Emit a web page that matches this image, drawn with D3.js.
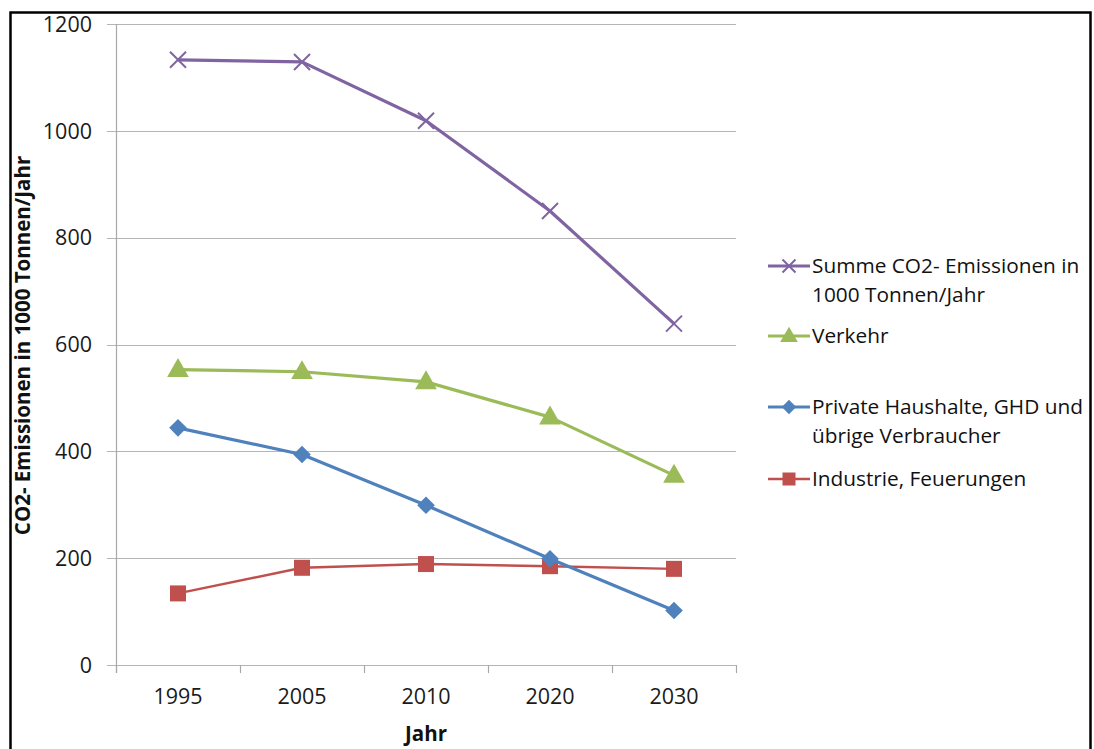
<!DOCTYPE html>
<html>
<head>
<meta charset="utf-8">
<script src="https://cdn.jsdelivr.net/npm/d3@7"></script>
<style>
  html, body { margin: 0; padding: 0; background: #fff; }
  svg { display: block; font-family: "Open Sans", "Noto Sans", sans-serif; }
</style>
</head>
<body>
<svg id="chart" width="1094" height="749"></svg>
<script>
// Years on the category axis
const years = ["1995", "2005", "2010", "2020", "2030"];

// CO2 emissions in 1000 t/year per sector
const summe      = [1133, 1129, 1019, 850, 639];
const verkehr    = [553, 549, 530, 464, 355];
const haushalte  = [444, 394, 299, 199, 102];
const industrie  = [134, 182, 189, 185, 180];

const yTicks = [0, 200, 400, 600, 800, 1000, 1200];

const seriesNames = [
  ["Summe CO2- Emissionen in", "1000 Tonnen/Jahr"],
  ["Verkehr"],
  ["Private Haushalte, GHD und", "übrige Verbraucher"],
  ["Industrie, Feuerungen"]
];

const series = [
  { name: seriesNames[0], values: summe,     color: "#8064A2", marker: "x",        width: 3.2 },
  { name: seriesNames[1], values: verkehr,   color: "#9BBB59", marker: "triangle", width: 3.2 },
  { name: seriesNames[2], values: haushalte, color: "#4F81BD", marker: "diamond",  width: 3.2 },
  { name: seriesNames[3], values: industrie, color: "#C0504D", marker: "square",   width: 2.4 }
];

const svg = d3.select("#chart");

// Outer frame
svg.append("rect")
  .attr("x", 10.5).attr("y", 12.5)
  .attr("width", 1080).attr("height", 745)
  .attr("fill", "none").attr("stroke", "#000").attr("stroke-width", 2.5);

const plot = { left: 116, right: 736, top: 24, bottom: 665 };

const x = d3.scalePoint().domain(years).range([plot.left, plot.right]).padding(0.5);
const y = d3.scaleLinear().domain([0, 1200]).range([plot.bottom, plot.top]);
const step = x.step();

// Horizontal gridlines with outward tick stubs
svg.append("g").selectAll("line").data(yTicks).join("line")
  .attr("x1", plot.left - 9).attr("x2", plot.right)
  .attr("y1", d => Math.round(y(d)) + 0.5).attr("y2", d => Math.round(y(d)) + 0.5)
  .attr("stroke", "#b5b5b5").attr("stroke-width", 1.2);

// Y axis labels
svg.append("g").selectAll("text").data(yTicks).join("text")
  .attr("x", plot.left - 24).attr("y", d => y(d))
  .attr("dy", "0.36em").attr("text-anchor", "end")
  .attr("font-size", 21.5).attr("fill", "#1a1a1a")
  .text(d => d);

// Y axis line
svg.append("line")
  .attr("x1", plot.left + 0.5).attr("x2", plot.left + 0.5)
  .attr("y1", plot.top).attr("y2", plot.bottom + 8)
  .attr("stroke", "#a8a8a8").attr("stroke-width", 1.2);

// X category boundary ticks
const boundaries = d3.range(years.length + 1).map(i => plot.left + i * step);
svg.append("g").selectAll("line").data(boundaries).join("line")
  .attr("x1", d => Math.round(d) + 0.5).attr("x2", d => Math.round(d) + 0.5)
  .attr("y1", plot.bottom).attr("y2", plot.bottom + 8)
  .attr("stroke", "#a8a8a8").attr("stroke-width", 1.2);

// X axis labels
svg.append("g").selectAll("text").data(years).join("text")
  .attr("x", d => x(d)).attr("y", plot.bottom + 31)
  .attr("dy", "0.36em").attr("text-anchor", "middle")
  .attr("font-size", 21.5).attr("fill", "#1a1a1a")
  .text(d => d);

// Axis titles
svg.append("text")
  .attr("x", (plot.left + plot.right) / 2).attr("y", 734)
  .attr("dy", "0.36em").attr("text-anchor", "middle")
  .attr("font-size", 20.5).attr("font-weight", "bold").attr("fill", "#111")
  .text("Jahr");

svg.append("text")
  .attr("transform", `translate(23, ${(plot.top + plot.bottom) / 2 + 1}) rotate(-90)`)
  .attr("dy", "0.36em").attr("text-anchor", "middle")
  .attr("font-size", 20.5).attr("font-weight", "bold").attr("fill", "#111")
  .text("CO2- Emissionen in 1000 Tonnen/Jahr");

// Marker drawing
function drawMarker(g, type, color, cx, cy, s) {
  if (type === "x") {
    const r = s * 0.5;
    g.append("path")
      .attr("d", `M${cx - r},${cy - r}L${cx + r},${cy + r}M${cx - r},${cy + r}L${cx + r},${cy - r}`)
      .attr("stroke", color).attr("stroke-width", 2).attr("fill", "none");
  } else if (type === "triangle") {
    g.append("path")
      .attr("d", d3.symbol(d3.symbolTriangle, s * s * 0.8)())
      .attr("transform", `translate(${cx},${cy + 1})`)
      .attr("fill", color);
  } else if (type === "diamond") {
    const r = s * 0.55;
    g.append("path")
      .attr("d", `M${cx},${cy - r}L${cx + r},${cy}L${cx},${cy + r}L${cx - r},${cy}Z`)
      .attr("fill", color);
  } else if (type === "square") {
    const r = s * 0.5;
    g.append("rect")
      .attr("x", cx - r).attr("y", cy - r).attr("width", 2 * r).attr("height", 2 * r)
      .attr("fill", color);
  }
}

const line = d3.line().x((d, i) => x(years[i])).y(d => y(d));

// Draw series bottom-up so the total sits on top
series.slice().reverse().forEach(s => {
  const g = svg.append("g");
  g.append("path")
    .attr("d", line(s.values))
    .attr("fill", "none").attr("stroke", s.color)
    .attr("stroke-width", s.width).attr("stroke-linejoin", "round");
  s.values.forEach((v, i) => drawMarker(g, s.marker, s.color, x(years[i]), y(v), 16));
});

// Legend
const legendRows = [266, 336, 407, 479];
series.forEach((s, i) => {
  const ly = legendRows[i];
  const g = svg.append("g");
  g.append("line")
    .attr("x1", 768).attr("x2", 810).attr("y1", ly).attr("y2", ly)
    .attr("stroke", s.color).attr("stroke-width", s.width);
  drawMarker(g, s.marker, s.color, 789, ly, 13);
  const t = g.append("text")
    .attr("x", 812).attr("y", ly)
    .attr("font-size", 20.8).attr("fill", "#111");
  s.name.forEach((part, j) => {
    t.append("tspan").attr("x", 812).attr("dy", j === 0 ? "0.36em" : 29).text(part);
  });
});
</script>
</body>
</html>
